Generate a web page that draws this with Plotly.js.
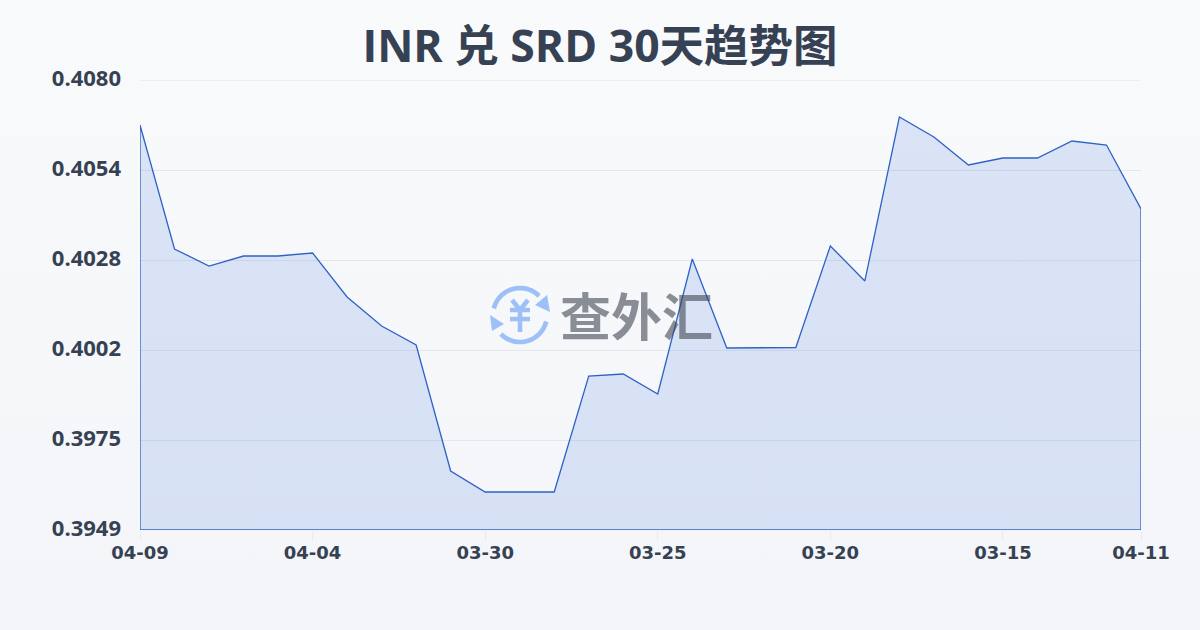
<!DOCTYPE html>
<html><head><meta charset="utf-8">
<script src="https://cdn.plot.ly/plotly-3.0.1.min.js"></script>
<style>html,body{margin:0;padding:0;width:1200px;height:630px;overflow:hidden;background:linear-gradient(180deg,#f9fafc 0%,#f3f5f8 100%)}</style>
</head><body><div id="chart" style="width:1200px;height:630px"></div>
<script>
const titleText = 'INR 兑 SRD 30天趋势图';
const watermark = '查外汇';
const dayIndex = [0,1,2,3,4,5,6,7,8,9,10,11,12,13,14,15,16,17,18,19,20,21,22,23,24,25,26,27,28,29];
const rates = [0.40669,0.40308,0.402585,0.402876,0.402876,0.402964,0.401683,0.400839,0.400286,0.396618,
  0.396006,0.396006,0.396006,0.399383,0.399441,0.398859,0.402789,0.400198,0.400213,0.400213,
  0.403168,0.402149,0.406923,0.406341,0.405526,0.405729,0.405729,0.406224,0.406108,0.404245];
const xTickVals = [0,5,10,15,20,25,29];
const xTickText = ['04-09','04-04','03-30','03-25','03-20','03-15','04-11'];
const yMin = 0.3949, yMax = 0.4080;
const yTickVals = [0.3949,0.39752,0.40014,0.40276,0.40538,0.4080];
const yTickText = ['0.3949','0.3975','0.4002','0.4028','0.4054','0.4080'];

const TITLE_FONT = '"Open Sans","Noto Sans CJK SC",sans-serif';
const Y_FONT = '"Open Sans","Noto Sans",sans-serif';
const X_FONT = '"DejaVu Sans",sans-serif';
const M = {l:140,r:59,t:80,b:100}, PW = 1200-M.l-M.r, PH = 630-M.t-M.b;
const px = x => (x-M.l)/PW, py = y => 1-(y-M.t)/PH;
const P = (x,y)=>px(x).toFixed(5)+','+py(y).toFixed(5);
function arc(cx,cy,r,a0,a1){let d='';for(let i=0;i<=24;i++){const a=(a0+(a1-a0)*i/24)*Math.PI/180;d+=(i?'L':'M')+P(cx+r*Math.cos(a),cy+r*Math.sin(a));}return d;}
const blue='#9dc0f8';
const lineShape=(path,w)=>({type:'path',xref:'paper',yref:'paper',layer:'below',path,line:{color:blue,width:w}});
const fillShape=(path)=>({type:'path',xref:'paper',yref:'paper',layer:'below',path,fillcolor:blue,line:{width:0}});
const shapes=[
  {type:'line',xref:'paper',yref:'y',layer:'below',x0:0,x1:1,y0:yMax,y1:yMax,line:{color:'#e1e3e8',width:1}},
  lineShape(arc(520,315,27,-166,-45),4.7),
  lineShape(arc(520,315,27,14,135),4.7),
  fillShape('M'+P(547,295)+'L'+P(550,312)+'L'+P(535,305)+'Z'),
  fillShape('M'+P(490,315)+'L'+P(504,324)+'L'+P(492,331)+'Z'),
  lineShape('M'+P(512,300)+'L'+P(520,310)+'L'+P(528,300)+'M'+P(520,310)+'L'+P(520,332)+'M'+P(510,310)+'L'+P(530,310)+'M'+P(510,319)+'L'+P(530,319),4.6)
];
Plotly.newPlot('chart',[{
  type:'scatter',mode:'lines',
  x:dayIndex.concat([dayIndex[dayIndex.length-1],dayIndex[0],dayIndex[0]]),
  y:rates.concat([yMin,yMin,rates[0]]),
  fill:'toself',
  fillgradient:{type:'vertical',colorscale:[[0,'rgba(50,105,220,0.15)'],[1,'rgba(50,105,220,0.15)']]},
  line:{color:'#2f62c6',width:1.3,shape:'linear'},
  hoverinfo:'skip',cliponaxis:false
}],{
  width:1200,height:630,margin:M,
  paper_bgcolor:'rgba(0,0,0,0)',plot_bgcolor:'rgba(0,0,0,0)',
  showlegend:false,
  title:{text:titleText,font:{family:TITLE_FONT,size:44.5,weight:700,color:'#364153'},x:0.5,xanchor:'center',y:0.927,yanchor:'middle'},
  xaxis:{range:[0,29],tickmode:'array',tickvals:xTickVals,ticktext:xTickText,showgrid:false,zeroline:false,showline:false,
    ticks:'outside',ticklen:10,tickcolor:'#e9ebef',tickwidth:1,ticklabelstandoff:-4,
    tickfont:{family:X_FONT,size:18,weight:700,color:'#364153'}},
  yaxis:{range:[yMin,yMax],tickmode:'array',tickvals:yTickVals,ticktext:yTickText,showgrid:true,gridcolor:'#e5e7eb',gridwidth:1,zeroline:false,showline:false,
    ticks:'',ticklabelstandoff:18,ticklabelshift:-2,
    tickfont:{family:Y_FONT,size:22,weight:700,color:'#364153'}},
  shapes,
  annotations:[{xref:'paper',yref:'paper',x:px(636),y:py(314),text:watermark,showarrow:false,xanchor:'center',yanchor:'middle',
    font:{family:'"Noto Sans CJK SC",sans-serif',size:51,weight:700,color:'rgba(65,70,82,0.6)'}}]
},{staticPlot:true,displayModeBar:false});
</script></body></html>
